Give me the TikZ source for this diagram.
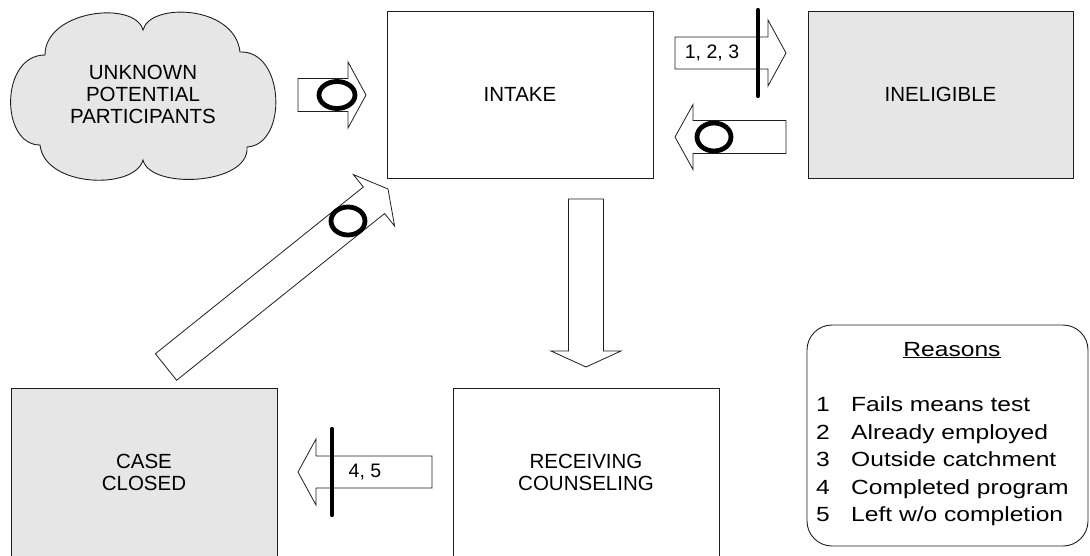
\documentclass[tikz,border=0pt]{standalone}
\usepackage{fontspec}
\usepackage{graphicx}
\setmainfont{Liberation Sans}
\usetikzlibrary{calc}

\definecolor{boxgray}{RGB}{230,230,230}
\definecolor{edge}{RGB}{30,30,30}

% Block arrow between two named coordinates:
% #1 tail, #2 tip, #3 shaft half width, #4 head half width, #5 head length
\newcommand\fatarrow[5]{%
  \path let \p1=(#1), \p2=(#2) in
    \pgfextra{%
      \pgfmathsetmacro\faang{atan2(\y2-\y1,\x2-\x1)}%
      \pgfmathsetmacro\falen{veclen(\x2-\x1,\y2-\y1)}%
      \xdef\faangle{\faang}\xdef\falength{\falen}%
      \xdef\fax{\x1}\xdef\fay{\y1}};
  \draw[arrowbody, shift={(\fax,\fay)}, rotate=\faangle]
    (0,#3) -- (\falength-#5,#3) -- (\falength-#5,#4) -- (\falength,0)
    -- (\falength-#5,-#4) -- (\falength-#5,-#3) -- (0,-#3) -- cycle;
}

\begin{document}
\begin{tikzpicture}[x=1pt,y=-1pt,
  every node/.style={font=\fontsize{20.5}{22}\selectfont, align=center},
  box/.style={draw=edge, line width=0.9pt, fill=white, minimum width=266, minimum height=167, inner sep=0pt},
  shaded/.style={box, fill=boxgray},
  arrowbody/.style={draw=edge, line width=0.8pt, fill=white, line join=miter},
  ring/.style={draw=black, line width=4.8pt, fill=white},
  bar/.style={draw=black, line width=4.2pt, line cap=round},
  legendtext/.style={font=\fontsize{20.5}{22}\selectfont, inner sep=0pt}]

\useasboundingbox (0,0) rectangle (1090,555);
\clip (0,0) rectangle (1090,555);

% cloud of unknown potential participants
\draw[edge, line width=0.9pt, fill=boxgray]
  (143,30) .. controls (150,2) and (235,5) .. (240,52)
           .. controls (285,50) and (288,145) .. (247,147)
           .. controls (250,185) and (150,190) .. (143,160)
           .. controls (135,190) and (45,188) .. (40,145)
           .. controls (0,145) and (0,55) .. (45,55)
           .. controls (45,10) and (135,0) .. (143,30) -- cycle;
\node (cloud) at (143,94) {UNKNOWN\\POTENTIAL\\PARTICIPANTS};

% states
\node[box] (intake) at (520,94.5) {INTAKE};
\node[shaded, minimum width=265] (inelig) at (940.5,94.5) {INELIGIBLE};
\node[shaded, minimum height=168] (closed) at (144,472) {CASE\\CLOSED};
\node[box, minimum height=168] (counsel) at (586,472) {RECEIVING\\COUNSELING};

% arrow end points
\coordinate (a1t) at (298,95);  \coordinate (a1h) at (366,95);
\coordinate (a2t) at (675,53);  \coordinate (a2h) at (786,53);
\coordinate (a3t) at (786,137); \coordinate (a3h) at (675,137);
\coordinate (a4t) at (586,199); \coordinate (a4h) at (586,367);
\coordinate (a5t) at (432,472); \coordinate (a5h) at (298,472);
\coordinate (a6t) at (166,367); \coordinate (a6h) at (388,189);

% flows between states
\fatarrow{a1t}{a1h}{16.5}{33}{18}
\fatarrow{a2t}{a2h}{16}{33}{18}
\fatarrow{a3t}{a3h}{16.5}{32.5}{18}
\fatarrow{a4t}{a4h}{17.5}{35}{16}
\fatarrow{a5t}{a5h}{16}{33}{18}
\fatarrow{a6t}{a6h}{17}{33}{18}

% labels on the arrows
\node[font=\fontsize{19.5}{21}\selectfont] (r123) at (712,53) {1, 2, 3};
\node[font=\fontsize{19.5}{21}\selectfont] (r45) at (365,472) {4, 5};

% rings marking open flows
\draw[ring] (337,95) ellipse [x radius=18, y radius=13.5];
\draw[ring] (714,137) ellipse [x radius=17, y radius=14];
\draw[ring] (348,221) ellipse [x radius=17, y radius=14];

% bars marking flows with reasons
\coordinate (b2a) at (758,10);  \coordinate (b2b) at (758,96);
\coordinate (b5a) at (332,429); \coordinate (b5b) at (332,515);
\draw[bar] (b2a) -- (b2b);
\draw[bar] (b5a) -- (b5b);

% legend
\node[draw=edge, line width=0.9pt, rounded corners=25, minimum width=281, minimum height=221, inner sep=0pt] (legend) at (947.5,435.5) {};
\node[legendtext, anchor=base] (lhead) at (952,356) {\scalebox{1.2}[1]{\underline{Reasons}}};
\foreach \n/\t [count=\i from 0] in {1/{Fails means test},2/{Already employed},3/{Outside catchment},4/{Completed program},5/{Left w/o completion}}{
  \node[legendtext, anchor=base] (lnum\n) at (823,411.7+27.5*\i) {\scalebox{1.2}[1]{\n}};
  \node[legendtext, anchor=base west] (ltxt\n) at (851,411.7+27.5*\i) {\scalebox{1.2}[1]{\t}};
}
\end{tikzpicture}
\end{document}
